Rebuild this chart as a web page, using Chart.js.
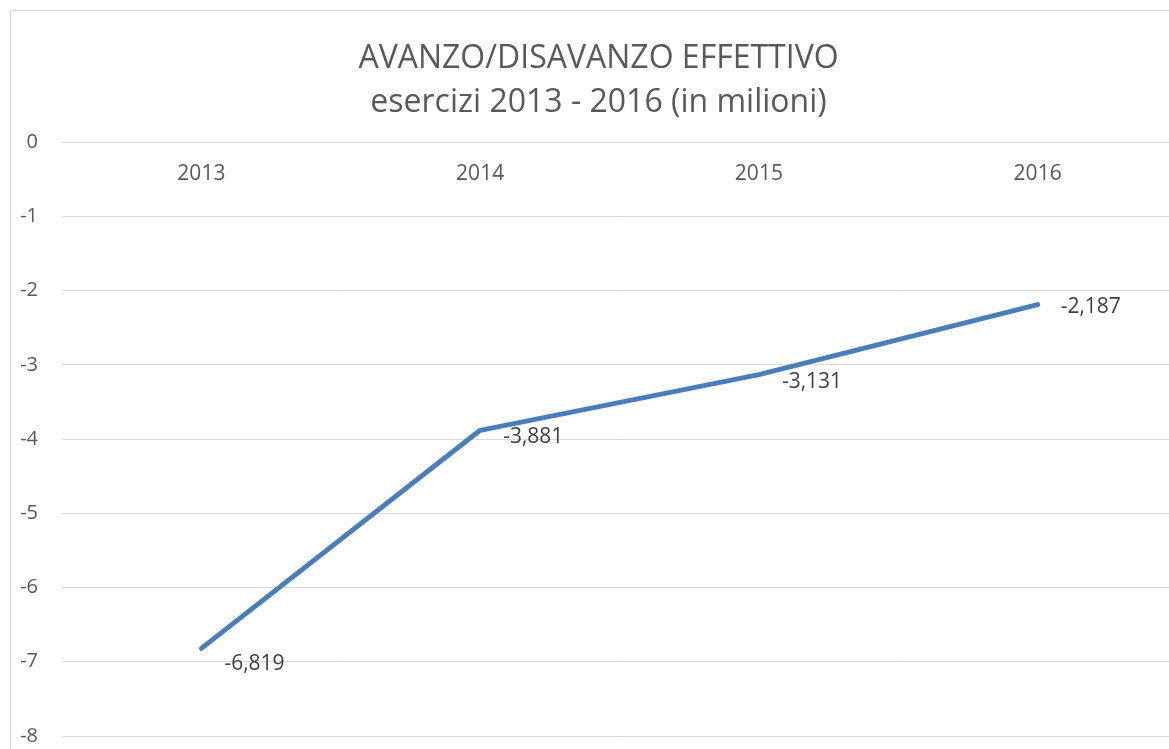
<!DOCTYPE html>
<html>
<head>
<meta charset="utf-8">
<script src="https://cdn.jsdelivr.net/npm/chart.js@4"></script>
<style>
    html, body { margin: 0; padding: 0; background: #fff; overflow: hidden; }
    #cornice { position: absolute; left: 10px; top: 10px; width: 1162px; height: 800px; border: 1px solid #d9d9d9; box-sizing: border-box; }
    #contenitore { position: absolute; left: 0; top: 0; width: 1182px; height: 749px; }
</style>
</head>
<body>
<div id="cornice"></div>
<div id="contenitore"><canvas id="graficoAvanzo" width="1182" height="749"></canvas></div>
<script>
// Dati (in milioni)
const anni = ['2013', '2014', '2015', '2016'];
const avanzo = [-6.819, -3.881, -3.131, -2.187];
const tickAsseY = [0, -1, -2, -3, -4, -5, -6, -7, -8];

const coloreTesto = '#595959';
const fontBase = "'Open Sans', sans-serif";

// Etichette dei valori a destra dei punti
const etichetteDati = {
    id: 'etichetteDati',
    afterDatasetsDraw(chart) {
        const ctx = chart.ctx;
        const meta = chart.getDatasetMeta(0);
        const spostY = [16, 7, 7, 2];
        ctx.save();
        ctx.font = "21px " + fontBase;
        ctx.fillStyle = '#404040';
        ctx.textAlign = 'left';
        ctx.textBaseline = 'middle';
        meta.data.forEach((punto, i) => {
            const testo = avanzo[i].toFixed(3).replace('.', ',');
            ctx.fillText(testo, punto.x + 23, punto.y + spostY[i]);
        });
        ctx.restore();
    }
};

const ctx = document.getElementById('graficoAvanzo').getContext('2d');
new Chart(ctx, {
    type: 'line',
    data: {
        labels: anni,
        datasets: [{
            label: 'Avanzo/Disavanzo',
            data: avanzo,
            borderColor: '#4a7ebb',
            borderWidth: 5,
            borderCapStyle: 'round',
            borderJoinStyle: 'round',
            pointRadius: 0,
            tension: 0,
            fill: false
        }]
    },
    options: {
        responsive: false,
        animation: false,
        layout: { padding: { left: 20, right: 5, top: 37, bottom: 13 } },
        plugins: {
            legend: { display: false },
            tooltip: { enabled: false },
            title: {
                display: true,
                text: ['AVANZO/DISAVANZO EFFETTIVO', 'esercizi 2013 - 2016 (in milioni)'],
                color: coloreTesto,
                font: { family: fontBase, size: 32, weight: 'normal', lineHeight: 1.38 },
                padding: { top: 0, bottom: 17 }
            }
        },
        scales: {
            x: {
                position: { y: 0 },
                offset: true,
                grid: { display: false, drawTicks: false },
                border: { display: false },
                ticks: { color: coloreTesto, font: { family: fontBase, size: 21 }, padding: 19 },
                afterFit(scale) {
                    scale.height = 0;
                    scale.paddingLeft = 0;
                    scale.paddingRight = 0;
                }
            },
            y: {
                min: -8,
                max: 0,
                afterBuildTicks(scale) {
                    scale.ticks = tickAsseY.map(v => ({ value: v }));
                },
                afterFit(scale) {
                    scale.width = 42;
                    scale.paddingTop = 0;
                    scale.paddingBottom = 0;
                },
                grid: { color: '#d9d9d9', lineWidth: 1, drawTicks: false },
                border: { display: false },
                ticks: { color: coloreTesto, font: { family: fontBase, size: 20 }, padding: 24 }
            }
        }
    },
    plugins: [etichetteDati]
});
</script>
</body>
</html>
